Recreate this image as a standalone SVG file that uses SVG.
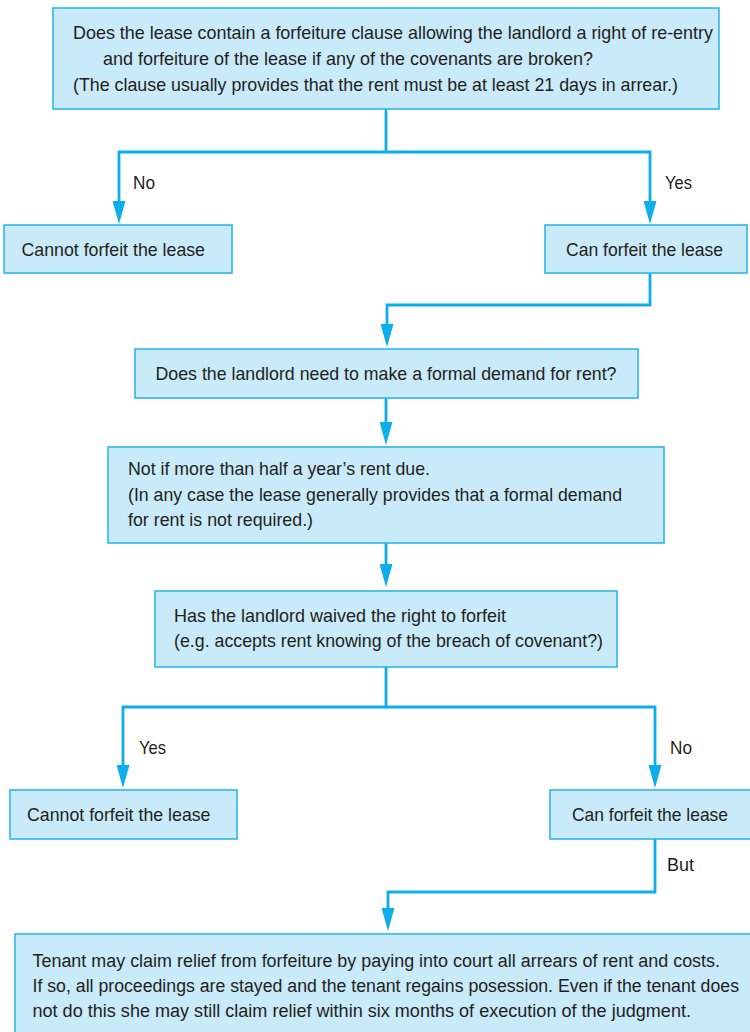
<svg xmlns="http://www.w3.org/2000/svg" width="750" height="1032" viewBox="0 0 750 1032">
<style>
.box{fill:#c8eaf9;stroke:#2db7ec;stroke-width:1.6}
.t{font-family:"Liberation Sans",Arial,Helvetica,sans-serif;font-size:18.5px;fill:#231f20}
.s{font-size:17.6px}
.c{fill:none;stroke:#0daeea;stroke-width:2.8}
</style>
<defs>
<marker id="ah" viewBox="0 -6.5 23 13" refX="0" refY="0" markerWidth="23" markerHeight="13" markerUnits="userSpaceOnUse" orient="auto">
<path d="M0,-6.5 L23,0 L0,6.5 z" fill="#0daeea"/>
</marker>
</defs>
<rect width="750" height="1032" fill="#ffffff"/>
<g id="connectors">
<path class="c" d="M386,109 V152 H119 V201" marker-end="url(#ah)"/>
<path class="c" d="M386,152 H650 V201" marker-end="url(#ah)"/>
<path class="c" d="M650,273 V305 H387 V324" marker-end="url(#ah)"/>
<path class="c" d="M386,398 V422" marker-end="url(#ah)"/>
<path class="c" d="M386,543 V564" marker-end="url(#ah)"/>
<path class="c" d="M386,667 V707 H123 V765" marker-end="url(#ah)"/>
<path class="c" d="M386,707 H655 V765" marker-end="url(#ah)"/>
<path class="c" d="M655,839 V892 H388 V908" marker-end="url(#ah)"/>
</g>
<g id="labels">
<text class="t" x="133" y="189" textLength="22" lengthAdjust="spacingAndGlyphs">No</text>
<text class="t" x="665" y="189" textLength="27" lengthAdjust="spacingAndGlyphs">Yes</text>
<text class="t" x="139" y="754" textLength="27" lengthAdjust="spacingAndGlyphs">Yes</text>
<text class="t" x="670" y="754" textLength="22" lengthAdjust="spacingAndGlyphs">No</text>
<text class="t" x="667" y="871" textLength="27" lengthAdjust="spacingAndGlyphs">But</text>
</g>
<g id="q1">
<rect class="box" x="53" y="8" width="666" height="101"/>
<text class="t" x="73" y="39" textLength="640" lengthAdjust="spacingAndGlyphs">Does the lease contain a forfeiture clause allowing the landlord a right of re-entry</text>
<text class="t" x="103" y="65" textLength="490" lengthAdjust="spacingAndGlyphs">and forfeiture of the lease if any of the covenants are broken?</text>
<text class="t" x="73" y="91" textLength="605" lengthAdjust="spacingAndGlyphs">(The clause usually provides that the rent must be at least 21 days in arrear.)</text>
</g>
<g id="cannot1">
<rect class="box" x="4" y="225" width="228" height="48"/>
<text class="t" x="21.5" y="256" textLength="183.5" lengthAdjust="spacingAndGlyphs">Cannot forfeit the lease</text>
</g>
<g id="can1">
<rect class="box" x="545" y="225" width="202" height="48"/>
<text class="t" x="566" y="256" textLength="157" lengthAdjust="spacingAndGlyphs">Can forfeit the lease</text>
</g>
<g id="q2">
<rect class="box" x="135" y="349" width="503" height="49"/>
<text class="t" x="155.5" y="380" textLength="461" lengthAdjust="spacingAndGlyphs">Does the landlord need to make a formal demand for rent?</text>
</g>
<g id="a2">
<rect class="box" x="108" y="447" width="556" height="96"/>
<text class="t" x="128" y="475" textLength="302" lengthAdjust="spacingAndGlyphs">Not if more than half a year’s rent due.</text>
<text class="t" x="128" y="501" textLength="494" lengthAdjust="spacingAndGlyphs">(In any case the lease generally provides that a formal demand</text>
<text class="t" x="128" y="526" textLength="185" lengthAdjust="spacingAndGlyphs">for rent is not required.)</text>
</g>
<g id="q3">
<rect class="box" x="155" y="591" width="462" height="76"/>
<text class="t" x="174" y="622" textLength="332" lengthAdjust="spacingAndGlyphs">Has the landlord waived the right to forfeit</text>
<text class="t" x="174" y="647" textLength="429" lengthAdjust="spacingAndGlyphs">(e.g. accepts rent knowing of the breach of covenant?)</text>
</g>
<g id="cannot2">
<rect class="box" x="10" y="790" width="227" height="49"/>
<text class="t" x="27" y="821" textLength="183.5" lengthAdjust="spacingAndGlyphs">Cannot forfeit the lease</text>
</g>
<g id="can2">
<rect class="box" x="550" y="790" width="205" height="49"/>
<text class="t" x="572" y="821" textLength="156" lengthAdjust="spacingAndGlyphs">Can forfeit the lease</text>
</g>
<g id="relief">
<rect class="box" x="15" y="934" width="745" height="110"/>
<text class="t s" x="32.5" y="967" textLength="687.5" lengthAdjust="spacingAndGlyphs">Tenant may claim relief from forfeiture by paying into court all arrears of rent and costs.</text>
<text class="t s" x="32.5" y="992" textLength="706.5" lengthAdjust="spacingAndGlyphs">If so, all proceedings are stayed and the tenant regains posession. Even if the tenant does</text>
<text class="t s" x="32.5" y="1017" textLength="658.5" lengthAdjust="spacingAndGlyphs">not do this she may still claim relief within six months of execution of the judgment.</text>
</g>
</svg>
